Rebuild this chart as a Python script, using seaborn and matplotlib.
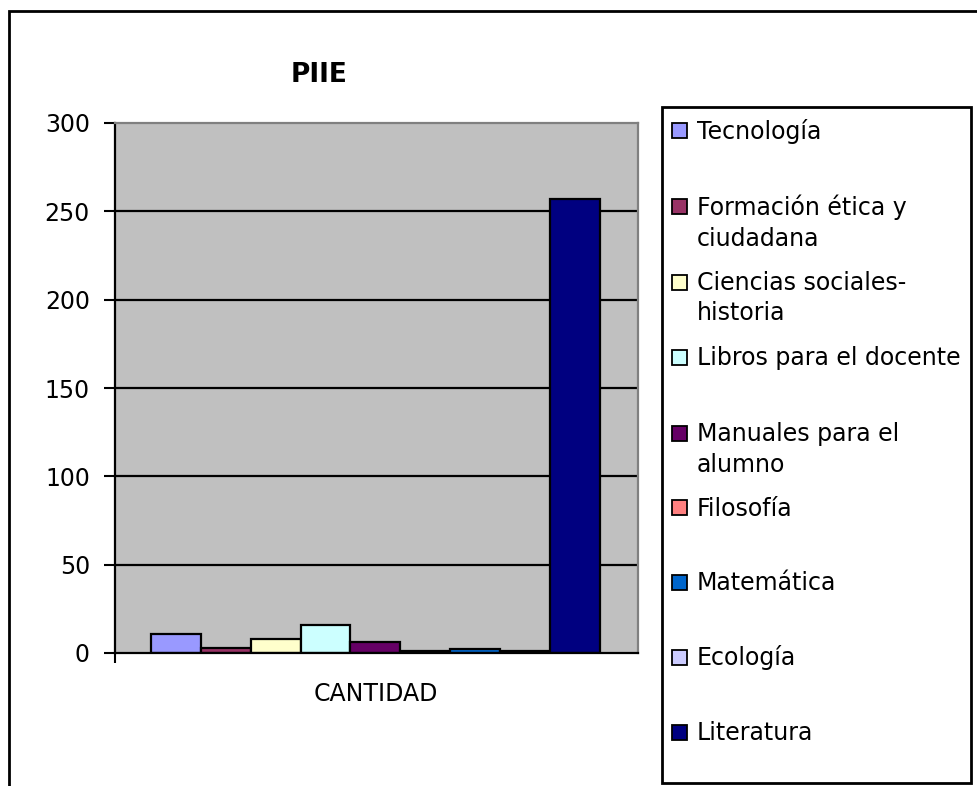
import matplotlib
matplotlib.use("Agg")
import matplotlib.pyplot as plt
from matplotlib.patches import Rectangle
import seaborn as sns
import pandas as pd

categories = ["Tecnología", "Formación ética y\nciudadana", "Ciencias sociales-\nhistoria",
              "Libros para el docente", "Manuales para el\nalumno", "Filosofía",
              "Matemática", "Ecología", "Literatura"]
values = [11, 3, 8, 16, 6, 1, 2, 1, 257]
colors = ["#9999FF", "#993366", "#FFFFCC", "#CCFFFF", "#660066", "#FF8080",
          "#0066CC", "#CCCCFF", "#000080"]
group = "CANTIDAD"
yticks = [0, 50, 100, 150, 200, 250, 300]
title = "PIIE"

sns.set_theme(style="white")
plt.rcParams['font.family'] = ['DejaVu Sans']
plt.rcParams['text.color'] = 'black'
plt.rcParams['xtick.color'] = 'black'
plt.rcParams['ytick.color'] = 'black'
plt.rcParams['xtick.labelcolor'] = 'black'
plt.rcParams['ytick.labelcolor'] = 'black'

W, H = 978, 786
fig = plt.figure(figsize=(W / 100, H / 100), dpi=100)

def fx(x):
    return x / W

def fy(y):
    return 1 - y / H

# outer chart frame (right and bottom edges fall outside the image)
fig.patches.append(Rectangle((fx(9), fy(1000)), fx(1200), fy(11) - fy(1000),
                             transform=fig.transFigure, fill=False,
                             edgecolor="black", linewidth=2, zorder=0))

ax = fig.add_axes([fx(115), fy(653), fx(638) - fx(115), fy(123) - fy(653)])
ax.set_facecolor("#C0C0C0")

df = pd.DataFrame({"grupo": [group] * len(categories), "materia": categories, "valor": values})
sns.barplot(data=df, x="grupo", y="valor", hue="materia", hue_order=categories,
            palette=colors, width=0.8, edgecolor="black", linewidth=1.6,
            legend=False, ax=ax, saturation=1)

ax.set_xlim(-0.464, 0.468)
ax.set_ylim(0, 300)
ax.set_yticks(yticks)
ax.set_yticklabels([str(v) for v in yticks], fontsize=17, color="black")
ax.set_axisbelow(True)
ax.yaxis.grid(True, color="black", linewidth=1.6)
gl = ax.get_ygridlines()
gl[0].set_visible(False)
gl[-1].set_visible(False)
ax.xaxis.grid(False)
ax.set_xlabel("")
ax.set_ylabel("")
ax.set_xticks([0])
ax.set_xticklabels([group], fontsize=17, color="black")
ax.tick_params(axis="x", length=0, pad=21)
ax.set_xticks([-0.464], minor=True)
ax.tick_params(axis="x", which="minor", length=7, width=1.5, color="black", direction="out", bottom=True)
ax.tick_params(axis="y", length=8, width=1.5, color="black", direction="out", pad=10, left=True)

for s in ["left", "bottom"]:
    ax.spines[s].set_color("black")
    ax.spines[s].set_linewidth(1.6)
for s in ["top", "right"]:
    ax.spines[s].set_color("#808080")
    ax.spines[s].set_linewidth(1.6)

fig.text(fx(319), fy(75), title, fontsize=19, fontweight="bold", ha="center", va="center",
         color="black")

# legend box
fig.patches.append(Rectangle((fx(662), fy(783)), fx(971) - fx(662), fy(107) - fy(783),
                             transform=fig.transFigure, facecolor="white",
                             edgecolor="black", linewidth=2, zorder=1))
centers = [130, 207, 282, 357, 433, 507, 582, 657, 732]
line_gap = 30
for lab, col, cy in zip(categories, colors, centers):
    fig.patches.append(Rectangle((fx(672), fy(cy + 7.5)), fx(15), fy(0) - fy(15),
                                 transform=fig.transFigure, facecolor=col,
                                 edgecolor="black", linewidth=1.3, zorder=2))
    for i, line in enumerate(lab.split("\n")):
        fig.text(fx(697), fy(cy + 8.5 + i * line_gap), line, fontsize=17, ha="left",
                 va="baseline", color="black", zorder=3)

fig.savefig("out.png", dpi=100, facecolor="white")
